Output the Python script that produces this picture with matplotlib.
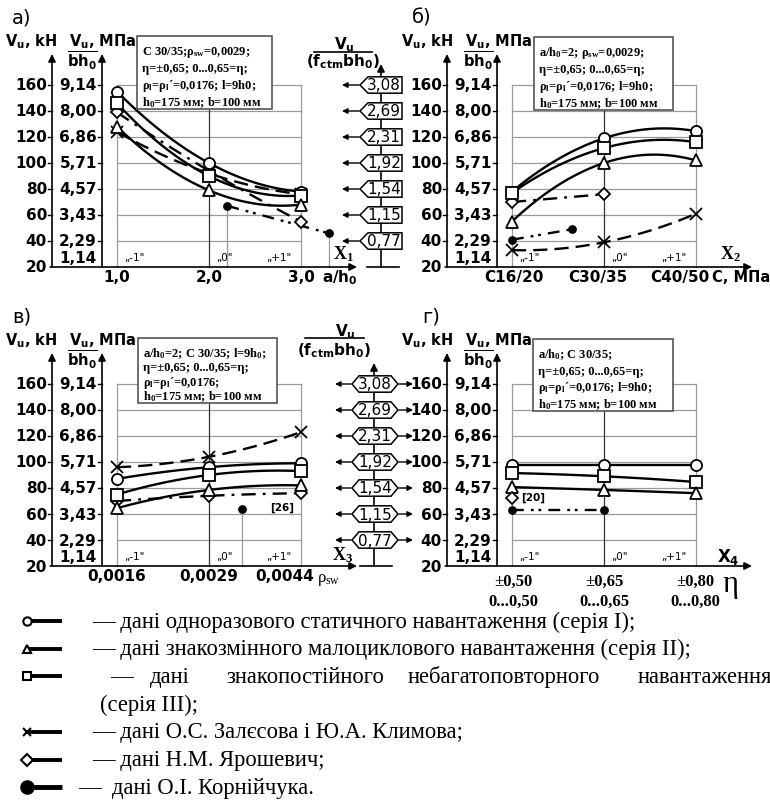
import numpy as np
import matplotlib
matplotlib.use('Agg')
import matplotlib.pyplot as plt
from matplotlib.patches import Polygon, Rectangle

plt.rcParams['mathtext.default'] = 'regular'
plt.rcParams['mathtext.fontset'] = 'custom'
plt.rcParams['mathtext.it'] = 'Liberation Serif:italic:bold'
plt.rcParams['mathtext.rm'] = 'Liberation Serif:bold'

W, H = 770, 803
SANS = 'DejaVu Sans'
SERIF = 'Liberation Serif'

# ---------------- data ----------------
kn_ticks = [20, 40, 60, 80, 100, 120, 140, 160]
mpa_labels = ['1,14', '2,29', '3,43', '4,57', '5,71', '6,86', '8,00', '9,14']
ratio_kn = [160, 140, 120, 100, 80, 60, 40]
ratio_labels = ['3,08', '2,69', '2,31', '1,92', '1,54', '1,15', '0,77']
levels_x = [-1, 0, 1]
level_labels = ['„-1"', '„0"', '„+1"']

# panel а) : X1 = a/h0
a_ticks = ['1,0', '2,0', '3,0']
a_ser1 = [155, 100, 78]
a_ser2 = [128, 79, 68]
a_ser3 = [146, 90, 75]
a_zal = [124, 92, 76]
a_yar = [139, 94, 55]
a_kor_x = [0.2, 1.3]
a_kor = [67, 46]

# panel б) : X2 = concrete class
b_ticks = ['C16/20', 'C30/35', 'C40/50']
b_ser1 = [78, 119, 124.5]
b_ser2 = [55, 100, 102]
b_ser3 = [77, 111.5, 116]
b_zal = [33, 39, 61]
b_yar_x = [-1, 0]
b_yar = [70, 76]
b_kor_x = [-1, -0.35]
b_kor = [41, 49]

# panel в) : X3 = rho_sw
c_ticks = ['0,0016', '0,0029', '0,0044']
c_ser1 = [87, 96, 99]
c_ser2 = [64.5, 78.5, 82]
c_ser3 = [75, 90, 93]
c_zal = [96, 104, 123]
c_yar = [70, 74, 76]
c_kor_x = [0.36]
c_kor = [64]

# panel г) : X4 = eta
d_ticks_top = ['±0,50', '±0,65', '±0,80']
d_ticks_bot = ['0...0,50', '0...0,65', '0...0,80']
d_ser1 = [98, 98, 98]
d_ser2 = [80.7, 78.5, 76]
d_ser3 = [91.5, 89, 84.6]
d_yar_x = [-1]
d_yar = [72]
d_kor_x = [-1, 0]
d_kor = [63, 63]

info_a = ['C 30/35;ρ$_{sw}$=0,0029;', 'η=±0,65; 0...0,65=η;',
          'ρ$_l$=ρ$_l$´=0,0176; $l$=9h0;', 'h$_0$=175 мм; b=100 мм']
info_b = ['a/h$_0$=2; ρ$_{sw}$=0,0029;', 'η=±0,65; 0...0,65=η;',
          'ρ$_l$=ρ$_l$´=0,0176; $l$=9h0;', 'h$_0$=175 мм; b=100 мм']
info_c = ['a/h$_0$=2; C 30/35; $l$=9h$_0$;', 'η=±0,65; 0...0,65=η;',
          'ρ$_l$=ρ$_l$´=0,0176;', 'h$_0$=175 мм; b=100 мм']
info_d = ['a/h$_0$; C 30/35;', 'η=±0,65; 0...0,65=η;',
          'ρ$_l$=ρ$_l$´=0,0176; $l$=9h0;', 'h$_0$=175 мм; b=100 мм']

legend_texts = ['— дані одноразового статичного навантаження (серія I);',
                '— дані знакозмінного малоциклового навантаження (серія II);',
                ['—', 'дані', 'знакопостійного', 'небагатоповторного', 'навантаження'],
                '(серія III);',
                '— дані О.С. Залєсова і Ю.А. Климова;',
                '— дані Н.М. Ярошевич;',
                '—  дані О.І. Корнійчука.']

# ---------------- figure ----------------
fig = plt.figure(figsize=(W / 100, H / 100), dpi=100)
ov = fig.add_axes([0, 0, 1, 1])
ov.set_xlim(0, W)
ov.set_ylim(H, 0)
ov.axis('off')
ov.set_zorder(3)

UX, UY = 92.0, 1.3
GRID = '#9a9a9a'
LW = 1.7
MS = 8
TSZ = 11


def make_panel(x0, yb):
    left, right, top = x0 - 157, x0 + 148, yb - 213
    ax = fig.add_axes([left / W, 1 - yb / H, (right - left) / W, (yb - top) / H])
    ax.set_xlim(-157 / UX, 148 / UX)
    ax.set_ylim(20, 20 + 213 / UY)
    ax.axis('off')
    ax.set_zorder(2)
    xk = -157 / UX
    xm = (102 - 209) / UX
    ytop = 20 + 213 / UY
    for v in kn_ticks[1:]:
        ax.plot([-1, 1], [v, v], color=GRID, lw=0.9, zorder=1, clip_on=False)
    ax.plot([-1, -1], [20, 160], color=GRID, lw=0.9, zorder=1, clip_on=False)
    ax.plot([1, 1], [20, 160], color=GRID, lw=0.9, zorder=1, clip_on=False)
    ax.plot([0, 0], [20, 160], color='#333333', lw=0.9, zorder=1, clip_on=False)
    ap = dict(arrowstyle='-|>', color='k', lw=1.2, mutation_scale=11, shrinkA=0, shrinkB=0)
    ax.annotate('', xy=(xk, ytop), xytext=(xk, 20), arrowprops=ap, annotation_clip=False)
    ax.annotate('', xy=(xm, ytop), xytext=(xm, 20), arrowprops=ap, annotation_clip=False)
    ax.annotate('', xy=(148 / UX, 20), xytext=(xk - 0.02, 20), arrowprops=ap, annotation_clip=False)
    for v, m in zip(kn_ticks, mpa_labels):
        if v > 20:
            ax.plot([xk - 4 / UX, xk], [v, v], color='k', lw=1, clip_on=False)
            ax.plot([xm - 4 / UX, xm], [v, v], color='k', lw=1, clip_on=False)
        ax.text(xk - 5 / UX, v, str(v), ha='right', va='center', fontsize=TSZ,
                fontweight='bold', family=SANS, clip_on=False)
        ym = v if v > 20 else 27.5
        ax.text(xm - 5 / UX, ym, m, ha='right', va='center', fontsize=TSZ,
                fontweight='bold', family=SANS, clip_on=False)
    for x, lab in zip(levels_x, level_labels):
        ax.text(x + (0.08 if x < 1 else -0.1), 27.5, lab, ha='left' if x < 1 else 'right',
                va='center', fontsize=7.5, family=SANS, clip_on=False)
    return ax


def curve(ax, xs, ys, **kw):
    xs = np.asarray(xs, float)
    ys = np.asarray(ys, float)
    if len(xs) >= 3:
        c = np.polyfit(xs, ys, 2)
        xx = np.linspace(xs.min(), xs.max(), 80)
        yy = np.polyval(c, xx)
    else:
        xx, yy = xs, ys
    ax.plot(xx, yy, color='k', lw=LW, zorder=3, clip_on=False, **kw)


def marks(ax, xs, ys, m, fill='white', ms=MS):
    ax.plot(xs, ys, ls='none', marker=m, ms=ms, mfc=fill, mec='k', mew=1.3,
            zorder=5, clip_on=False)


DZ = dict(dashes=(6, 3))
DY = dict(dashes=(6, 3, 1.2, 3))
DK = dict(dashes=(5, 3, 1.2, 2, 1.2, 3))

# ---- panel а)
axa = make_panel(209, 268)
curve(axa, levels_x, a_zal, **DZ)
curve(axa, levels_x, a_yar, **DY)
curve(axa, levels_x, a_ser1)
curve(axa, levels_x, a_ser3)
curve(axa, levels_x, a_ser2)
curve(axa, a_kor_x, a_kor, **DK)
for x, y in zip(a_kor_x, a_kor):
    axa.plot([x, x], [20, y], color=GRID, lw=0.9, zorder=2, clip_on=False)
marks(axa, levels_x, a_zal, 'x')
marks(axa, levels_x, a_yar, 'D', ms=6.5)
marks(axa, levels_x, a_ser1, 'o')
marks(axa, levels_x, a_ser3, 's')
marks(axa, levels_x, a_ser2, '^')
marks(axa, a_kor_x, a_kor, 'o', fill='k', ms=5)

# ---- panel б)
axb = make_panel(604, 268)
curve(axb, levels_x, b_zal, **DZ)
curve(axb, b_yar_x, b_yar, **DY)
curve(axb, levels_x, b_ser1)
curve(axb, levels_x, b_ser3)
curve(axb, levels_x, b_ser2)
curve(axb, b_kor_x, b_kor, **DK)
marks(axb, levels_x, b_zal, 'x')
marks(axb, b_yar_x, b_yar, 'D', ms=6.5)
marks(axb, levels_x, b_ser1, 'o')
marks(axb, levels_x, b_ser3, 's')
marks(axb, levels_x, b_ser2, '^')
marks(axb, b_kor_x, b_kor, 'o', fill='k', ms=5)

# ---- panel в)
axc = make_panel(209, 567)
curve(axc, levels_x, c_zal, **DZ)
curve(axc, levels_x, c_yar, **DY)
curve(axc, levels_x, c_ser1)
curve(axc, levels_x, c_ser3)
curve(axc, levels_x, c_ser2)
for x, y in zip(c_kor_x, c_kor):
    axc.plot([x, x], [20, y], color=GRID, lw=0.9, zorder=2, clip_on=False)
    axc.text(x + 0.3, y + 1.5, '[26]', fontsize=7.5, fontweight='bold', family=SANS,
             va='center', ha='left')
marks(axc, levels_x, c_zal, 'x')
marks(axc, levels_x, c_yar, 'D', ms=6.5)
marks(axc, levels_x, c_ser1, 'o')
marks(axc, levels_x, c_ser3, 's')
marks(axc, levels_x, c_ser2, '^')
marks(axc, c_kor_x, c_kor, 'o', fill='k', ms=5)

# ---- panel г)
axd = make_panel(604, 567)
curve(axd, levels_x, d_ser1)
curve(axd, levels_x, d_ser3)
curve(axd, levels_x, d_ser2)
curve(axd, d_kor_x, d_kor, **DK)
marks(axd, levels_x, d_ser1, 'o')
marks(axd, levels_x, d_ser3, 's')
marks(axd, levels_x, d_ser2, '^')
marks(axd, d_yar_x, d_yar, 'D', ms=6.5)
axd.text(d_yar_x[0] + 0.1, d_yar[0] + 1.5, '[20]', fontsize=7.5, fontweight='bold',
         family=SANS, va='center', ha='left')
marks(axd, d_kor_x, d_kor, 'o', fill='k', ms=5)


# ---- middle shared axes
def middle(xa, yb, both):
    mx = fig.add_axes([300 / W, 1 - yb / H, 160 / W, 213 / H])
    mx.set_xlim(300, 460)
    mx.set_ylim(20, 20 + 213 / UY)
    mx.axis('off')
    mx.set_zorder(2)
    ytop = 20 + 203 / UY
    mx.annotate('', xy=(xa, ytop), xytext=(xa, 20),
                arrowprops=dict(arrowstyle='-|>', color='k', lw=1.2, mutation_scale=11,
                                shrinkA=0, shrinkB=0), annotation_clip=False)
    mx.plot([xa - 14, xa + 18], [20, 20], color='k', lw=1.2, clip_on=False)
    hh = 6.3
    ap = dict(arrowstyle='-|>', color='k', lw=1, mutation_scale=8, shrinkA=0, shrinkB=0)
    for v, lab in zip(ratio_kn, ratio_labels):
        if both:
            l, r = xa - 22, xa + 24
            pts = [(l, v), (l + 7, v + hh), (r - 7, v + hh), (r, v), (r - 7, v - hh), (l + 7, v - hh)]
            mx.annotate('', xy=(l - 17, v), xytext=(l - 1, v), arrowprops=ap, annotation_clip=False)
            mx.annotate('', xy=(r + 15, v), xytext=(r + 1, v), arrowprops=ap, annotation_clip=False)
        else:
            l, r = xa - 21, xa + 21
            pts = [(l, v), (l + 8, v + hh), (r, v + hh), (r, v - hh), (l + 8, v - hh)]
            mx.annotate('', xy=(l - 18, v), xytext=(l - 1, v), arrowprops=ap, annotation_clip=False)
        mx.add_patch(Polygon(pts, closed=True, fc='white', ec='k', lw=1.1, zorder=4, clip_on=False))
        mx.text((l + r) / 2 + (0 if both else 3), v, lab, ha='center', va='center',
                fontsize=11, family=SANS, zorder=5, clip_on=False)
    return mx


middle(381, 268, False)
middle(374, 567, True)


# ---- overlay texts
def T(x, y, s, size=TSZ, weight='bold', family=SANS, ha='left', va='center', **kw):
    ov.text(x, y, s, fontsize=size, fontweight=weight, family=family, ha=ha, va=va, **kw)


for dx, dy, lab in [(0, 0, 'а)'), (400, 0, 'б)'), (0, 299, 'в)'), (410, 299, 'г)')]:
    T(12 + dx, 18 + dy, lab, size=14, weight='normal')

for dx, dy in [(0, 0), (396, 0), (0, 299), (396, 299)]:
    T(5 + dx, 42 + dy, 'V$_u$, kH', size=10.5)
    T(69 + dx, 42 + dy, 'V$_u$, МПа', size=10.5)
    T(67 + dx, 61 + dy, r'$\overline{bh_0}$', size=10.5)

# middle axis titles
T(344, 45, 'V$_u$', ha='center')
ov.plot([314, 372], [53, 53], color='k', lw=1.2)
T(343, 62, '(f$_{ctm}$bh$_0$)', ha='center')
T(345, 332, 'V$_u$', ha='center')
ov.plot([305, 364], [339, 339], color='k', lw=1.2)
T(334, 351, '(f$_{ctm}$bh$_0$)', ha='center')

# info boxes
for (x1, x2, y1, y2), lines in [((137, 272, 37, 110), info_a), ((534, 673, 38, 111), info_b),
                                 ((138, 277, 339, 404), info_c), ((533, 673, 340, 412), info_d)]:
    ov.add_patch(Rectangle((x1, y1), x2 - x1, y2 - y1, fc='white', ec='#555555', lw=1.2, zorder=1))
    n = len(lines)
    for i, s in enumerate(lines):
        yy = y1 + 15 + i * (y2 - y1 - 22) / (n - 1)
        T(x1 + 5, yy, s, size=9, family=SERIF, zorder=2)

# x tick labels
for x, s in zip([117, 209, 301], a_ticks):
    T(x, 278, s, ha='center')
T(322, 278, 'a/h$_0$')
T(333, 254, 'X$_1$', family=SERIF, size=13)
for x, s in zip([514, 598, 680], b_ticks):
    T(x, 278, s, ha='center')
T(712, 278, 'C, МПа', size=10.5)
T(720, 254, 'X$_2$', family=SERIF, size=13)
for x, s in zip([117, 209, 285], c_ticks):
    T(x, 577, s, ha='center')
T(317, 580, 'ρ$_{sw}$', weight='normal', family=SERIF, size=12)
T(332, 555, 'X$_3$', family=SERIF, size=13)
for x, s1, s2 in zip([513, 604, 695], d_ticks_top, d_ticks_bot):
    T(x, 582, s1, ha='center', family=SERIF, size=12)
    T(x, 602, s2, ha='center', family=SERIF, size=12)
T(722, 585, 'η', weight='normal', family=SERIF, size=22)
T(717, 557, 'X$_4$', size=12)

# legend
rows_y = [622 + i * 27.7 for i in range(7)]
keys = [('o', 'white', 6), ('^', 'white', 6), ('s', 'white', 6), None,
        ('x', 'white', 6), ('D', 'white', 6), ('o', 'k', 9)]
for y, key in zip(rows_y, keys):
    if key is None:
        continue
    m, fc, ms = key
    ov.plot([28, 62], [y, y], color='k', lw=2.8 if fc == 'white' else 3.5, solid_capstyle='butt')
    ov.plot([27], [y], marker=m, ms=ms, mfc=fc, mec='k', mew=1.5, ls='none')

LSZ = 16.3
for i, (y, s) in enumerate(zip(rows_y, legend_texts)):
    if isinstance(s, list):
        for x, w in zip([110, 150, 226, 408, 638], s):
            T(x, y, w, size=LSZ, weight='normal', family=SERIF, clip_on=False)
    elif i == 3:
        T(100, y, s, size=LSZ, weight='normal', family=SERIF)
    elif i == 6:
        T(78, y, s, size=LSZ, weight='normal', family=SERIF)
    else:
        T(92, y, s, size=LSZ, weight='normal', family=SERIF)

fig.savefig('out.png', dpi=100)
